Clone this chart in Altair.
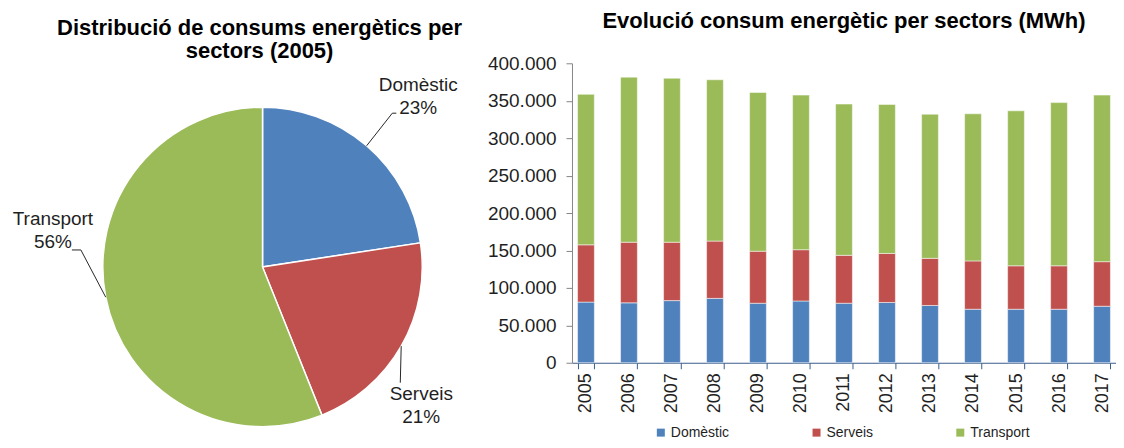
import math
import altair as alt
import pandas as pd

# ---------------- data ----------------
years = [2005, 2006, 2007, 2008, 2009, 2010, 2011, 2012, 2013, 2014, 2015, 2016, 2017]
sectors = ["Domèstic", "Serveis", "Transport"]
colors = ["#4F81BD", "#C0504D", "#9BBB59"]
domestic = [81000, 80000, 83000, 86000, 79500, 82500, 79500, 80500, 76500, 71500, 71500, 71500, 75500]
serveis = [76500, 81000, 78000, 76500, 69500, 68500, 64000, 65500, 63000, 64500, 58000, 58000, 59500]
transport = [201000, 220500, 219000, 215500, 212000, 206500, 202000, 199000, 192500, 196500, 207000, 218000, 222500]
pie_year = 2005
y_ticks = [0, 50000, 100000, 150000, 200000, 250000, 300000, 350000, 400000]

pie_title = ["Distribució de consums energètics per", "sectors (2005)"]
bar_title = "Evolució consum energètic per sectors (MWh)"

# ---------------- layout ----------------
FONT = "Liberation Sans"
TXT = "#1f1f1f"
PW, PH = 460, 377          # pie panel size
CX, CY, R = 255, 204, 160  # pie centre and radius (panel pixels)
BW, BH = 545, 300          # bar plot size
# first-line positions of labels and leader-line elbows, relative to the pie centre (pixels)
label_pos = {"Domèstic": (156, -182.5), "Serveis": (159, 127.5), "Transport": (-210, -47.5)}
elbows = {"Domèstic": [(130, -154), (134, -154)], "Serveis": [(138, 116)],
          "Transport": [(-182, -17), (-191, -17)]}
title_pos = [(252, -28), (252, -5)]

# ---------------- tables ----------------
series = {"Domèstic": domestic, "Serveis": serveis, "Transport": transport}
bar_rows = []
for si, s in enumerate(sectors):
    for y, v in zip(years, series[s]):
        bar_rows.append({"year": str(y), "sector": s, "value": v, "order": si})
bar_df = pd.DataFrame(bar_rows)

yi = years.index(pie_year)
pie_vals = [series[s][yi] for s in sectors]
tot = sum(pie_vals)
pie_df = pd.DataFrame({"sector": sectors, "value": pie_vals, "order": [0, 1, 2]})

lead_rows, lab_rows = [], []
cum = 0.0
for s, v in zip(sectors, pie_vals):
    mid = (cum + v / 2) / tot * 2 * math.pi
    cum += v
    pts = [(CX + R * math.sin(mid), CY - R * math.cos(mid))]
    pts += [(CX + dx, CY + dy) for dx, dy in elbows[s]]
    for i, (px, py) in enumerate(pts):
        lead_rows.append({"sector": s, "idx": i, "px": px, "py": py})
    lx, ly = label_pos[s]
    lab_rows.append({"sector": s, "px": CX + lx, "py": CY + ly,
                     "label": f"{s}\n{round(v / tot * 100)}%"})
lead_df = pd.DataFrame(lead_rows)
lab_df = pd.DataFrame(lab_rows)
title_df = pd.DataFrame({"px": [p[0] for p in title_pos], "py": [p[1] for p in title_pos],
                         "text": pie_title})

color_scale = alt.Scale(domain=sectors, range=colors)
xs = alt.Scale(domain=[0, PW], nice=False, zero=False)
ys = alt.Scale(domain=[0, PH], nice=False, zero=False, reverse=True)

# ---------------- pie panel ----------------
arc = alt.Chart(pie_df).mark_arc(outerRadius=R, stroke="white", strokeWidth=1.5).encode(
    theta=alt.Theta("value:Q", stack=True),
    color=alt.Color("sector:N", scale=color_scale, legend=None),
    order=alt.Order("order:Q"),
    x=alt.value(CX), y=alt.value(CY),
)
lead = alt.Chart(lead_df).mark_line(color="#262626", strokeWidth=1).encode(
    x=alt.X("px:Q", scale=xs, axis=None),
    y=alt.Y("py:Q", scale=ys, axis=None),
    detail="sector:N",
    order="idx:Q",
)
labels = alt.Chart(lab_df).mark_text(
    font=FONT, fontSize=19, color=TXT, lineBreak="\n", lineHeight=23,
    align="center", baseline="middle",
).encode(
    x=alt.X("px:Q", scale=xs, axis=None),
    y=alt.Y("py:Q", scale=ys, axis=None),
    text="label:N",
)
ptitle = alt.Chart(title_df).mark_text(
    font=FONT, fontSize=22, fontWeight="bold", color="#000000",
    align="center", baseline="alphabetic",
).encode(
    x=alt.X("px:Q", scale=xs, axis=None),
    y=alt.Y("py:Q", scale=ys, axis=None),
    text="text:N",
)
pie = alt.layer(arc, lead, labels, ptitle).properties(width=PW, height=PH)

# ---------------- bar panel ----------------
bar = alt.Chart(
    bar_df,
    title=alt.Title(bar_title, font=FONT, fontSize=22, fontWeight="bold",
                    color="#000000", anchor="middle", frame="group", offset=21),
).mark_bar(stroke="white", strokeWidth=0.5).encode(
    x=alt.X("year:O", title=None,
            scale=alt.Scale(paddingInner=0.61, paddingOuter=0.13),
            axis=alt.Axis(labelAngle=-90, labelFont=FONT, labelFontSize=18,
                          labelColor=TXT, labelPadding=4, tickBand="extent",
                          tickSize=6, tickColor="#385D8A", domainColor="#385D8A",
                          domainWidth=1.2)),
    y=alt.Y("value:Q", stack=True, title=None,
            scale=alt.Scale(domain=[0, 400000], nice=False),
            axis=alt.Axis(values=y_ticks, grid=False, labelFont=FONT, labelFontSize=19,
                          labelColor=TXT, labelPadding=10, tickSize=6,
                          tickColor="#868686", domainColor="#868686",
                          labelExpr="replace(format(datum.value, ','), ',', '.')")),
    color=alt.Color("sector:N", scale=color_scale,
                    legend=alt.Legend(orient="none", legendX=82, legendY=363,
                                      direction="horizontal", columns=3, title=None,
                                      symbolType="square", symbolSize=64,
                                      symbolStrokeWidth=0, labelFont=FONT,
                                      labelFontSize=14, labelColor=TXT,
                                      labelOffset=3, columnPadding=80, padding=0)),
    order=alt.Order("order:Q"),
).properties(width=BW, height=BH)

chart = alt.hconcat(pie, bar, spacing=20).resolve_scale(
    color="independent", x="independent", y="independent"
).properties(
    padding={"left": 0, "top": 2, "right": 0, "bottom": 0}
).configure_view(stroke=None)

chart.save("out.html", embed_options={"renderer": "svg", "actions": False})
